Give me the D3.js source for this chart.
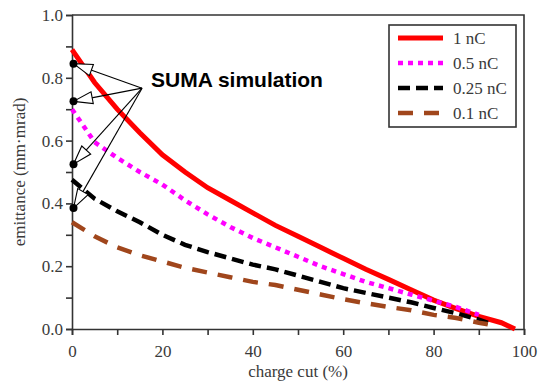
<!DOCTYPE html>
<html>
<head>
<meta charset="utf-8">
<script src="https://cdn.jsdelivr.net/npm/d3@7"></script>
<style>
  body { margin: 0; background: #fff; }
  text { font-family: "Liberation Serif", "Times New Roman", serif; fill: #3a3a3a; }
</style>
</head>
<body>
<script>
// valores (charge cut em %, emitância em mm·mrad)
const cut1 = [0, 5, 10, 15, 20, 25, 30, 35, 40, 45, 50, 55, 60, 65, 70, 75, 80, 85, 90, 95, 98];
const em1 = [0.89, 0.785, 0.70, 0.625, 0.555, 0.50, 0.45, 0.41, 0.37, 0.33, 0.295, 0.26, 0.225, 0.19, 0.158, 0.125, 0.092, 0.065, 0.04, 0.02, 0.0];

const cut05 = [0, 5, 10, 15, 20, 25, 30, 35, 40, 45, 50, 55, 60, 65, 70, 75, 80, 85, 90];
const em05 = [0.70, 0.595, 0.545, 0.50, 0.46, 0.41, 0.365, 0.325, 0.29, 0.26, 0.23, 0.20, 0.175, 0.15, 0.13, 0.11, 0.09, 0.07, 0.045];

const cut025 = [0, 5, 10, 15, 20, 25, 30, 35, 40, 45, 50, 55, 60, 65, 70, 75, 80, 85, 90, 93];
const em025 = [0.475, 0.415, 0.375, 0.34, 0.30, 0.268, 0.245, 0.225, 0.205, 0.19, 0.17, 0.15, 0.13, 0.115, 0.10, 0.085, 0.067, 0.05, 0.03, 0.015];

const cut01 = [0, 5, 10, 15, 20, 25, 30, 35, 40, 45, 50, 55, 60, 65, 70, 75, 80, 85, 90, 92];
const em01 = [0.34, 0.295, 0.26, 0.235, 0.215, 0.195, 0.18, 0.165, 0.15, 0.14, 0.125, 0.11, 0.095, 0.082, 0.07, 0.06, 0.045, 0.035, 0.02, 0.015];

// pontos da simulação SUMA em x = 0
const sumaVals = [0.845, 0.725, 0.525, 0.385];
const sumaLabel = "SUMA simulation";
const arrowFrom = [15.5, 0.767];

const seriesNames = ["1 nC", "0.5 nC", "0.25 nC", "0.1 nC"];
const xTicks = [0, 20, 40, 60, 80, 100];
const yTicks = [0.0, 0.2, 0.4, 0.6, 0.8, 1.0];

const series = [
  { name: seriesNames[0], x: cut1, y: em1, color: "#ff0000", w: 5, dash: null },
  { name: seriesNames[1], x: cut05, y: em05, color: "#ff00ff", w: 4.5, dash: "5,5" },
  { name: seriesNames[2], x: cut025, y: em025, color: "#000000", w: 4.5, dash: "12,6" },
  { name: seriesNames[3], x: cut01, y: em01, color: "#a0461c", w: 4.5, dash: "15,11" }
];

const W = 541, H = 383;
const mLeft = 72, mRight = 524, mTop = 15, mBottom = 329;

const svg = d3.select("body").append("svg")
    .attr("width", W)
    .attr("height", H);

const x = d3.scaleLinear().domain([0, 100]).range([mLeft, mRight]);
const y = d3.scaleLinear().domain([0, 1]).range([mBottom, mTop]);

const axisColor = "#333";

// eixos
const gx = svg.append("g").attr("transform", "translate(0," + mBottom + ")")
    .call(d3.axisBottom(x).tickValues(d3.range(0, 101, 10)).tickSize(6).tickFormat(d => xTicks.includes(d) ? d : ""));
const gy = svg.append("g").attr("transform", "translate(" + mLeft + ",0)")
    .call(d3.axisLeft(y).tickValues(d3.range(0, 1.01, 0.1)).tickSize(6)
      .tickFormat(d => yTicks.some(t => Math.abs(t - d) < 1e-6) ? d3.format(".1f")(d) : ""));

[gx, gy].forEach(g => {
  g.select(".domain").attr("stroke", axisColor).attr("stroke-width", 1.6);
  g.selectAll(".tick line").attr("stroke", axisColor).attr("stroke-width", 1.6);
  g.selectAll(".tick text")
    .style("font-family", "Liberation Serif, serif")
    .style("font-size", "17px")
    .attr("fill", "#3a3a3a");
});
gx.selectAll(".tick text").attr("dy", "1.1em");
gy.selectAll(".tick text").attr("x", -9);

// moldura superior e direita
svg.append("path")
    .attr("d", d3.line()([[x(0), y(1)], [x(100), y(1)], [x(100), y(0)]]))
    .attr("fill", "none")
    .attr("stroke", axisColor)
    .attr("stroke-width", 1.6);

// títulos dos eixos
svg.append("text")
    .attr("x", (mLeft + mRight) / 2)
    .attr("y", 377)
    .attr("text-anchor", "middle")
    .style("font-size", "17px")
    .text("charge cut (%)");

svg.append("text")
    .attr("transform", "translate(25," + ((mTop + mBottom) / 2) + ") rotate(-90)")
    .attr("text-anchor", "middle")
    .style("font-size", "17px")
    .text("emittance (mm\u00b7mrad)");

// curvas
const line = d3.line().x(d => x(d[0])).y(d => y(d[1]));
series.forEach(s => {
  svg.append("path")
      .datum(s.x.map((v, i) => [v, s.y[i]]))
      .attr("d", line)
      .attr("fill", "none")
      .attr("stroke", s.color)
      .attr("stroke-width", s.w)
      .attr("stroke-dasharray", s.dash);
});

// anotação SUMA: setas e pontos
const fx = x(arrowFrom[0]), fy = y(arrowFrom[1]);
sumaVals.forEach(v => {
  const tx = x(0) + 1.5, ty = y(v);
  svg.append("line")
      .attr("x1", fx).attr("y1", fy)
      .attr("x2", tx).attr("y2", ty)
      .attr("stroke", "#000").attr("stroke-width", 1.1);
  // ponta de seta aberta
  const ang = Math.atan2(fy - ty, fx - tx);
  const L = 19, hw = 6;
  const bx = tx + L * Math.cos(ang), by = ty + L * Math.sin(ang);
  const px = -Math.sin(ang) * hw, py = Math.cos(ang) * hw;
  svg.append("path")
      .attr("d", "M" + tx + "," + ty + "L" + (bx + px) + "," + (by + py) + "L" + (bx - px) + "," + (by - py) + "Z")
      .attr("fill", "#fff")
      .attr("stroke", "#000")
      .attr("stroke-width", 1.1);
  svg.append("circle")
      .attr("cx", tx).attr("cy", ty).attr("r", 4)
      .attr("fill", "#000");
});

svg.append("text")
    .attr("x", 151)
    .attr("y", 87)
    .style("font-family", "Liberation Sans, Arial, sans-serif")
    .style("font-weight", "bold")
    .style("font-size", "21px")
    .style("fill", "#000")
    .text(sumaLabel);

// legenda
const lg = svg.append("g");
lg.append("rect")
    .attr("x", 389).attr("y", 25)
    .attr("width", 127).attr("height", 102)
    .attr("fill", "#fff")
    .attr("stroke", axisColor)
    .attr("stroke-width", 1.6);

series.forEach((s, i) => {
  const ly = 38 + i * 25;
  lg.append("line")
      .attr("x1", 398).attr("x2", 443)
      .attr("y1", ly).attr("y2", ly)
      .attr("stroke", s.color)
      .attr("stroke-width", s.w)
      .attr("stroke-dasharray", s.dash);
  lg.append("text")
      .attr("x", 453)
      .attr("y", ly)
      .attr("dy", "0.35em")
      .style("font-size", "17px")
      .text(s.name);
});
</script>
</body>
</html>
